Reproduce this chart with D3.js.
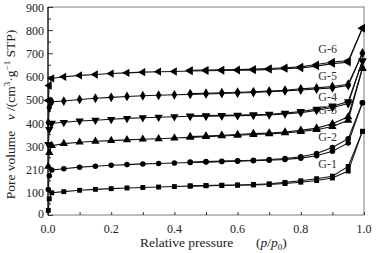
<!DOCTYPE html>
<html>
<head>
<meta charset="utf-8">
<script src="https://cdn.jsdelivr.net/npm/d3@7"></script>
<style>
  body { margin: 0; background: #fff; }
  text { font-family: "Liberation Serif", "DejaVu Serif", serif; }
</style>
</head>
<body>
<div id="chart"></div>
<script>
// relative pressure grid for the adsorption and desorption branches
const pAds = [0.001, 0.004, 0.012, 0.05, 0.10, 0.15, 0.20, 0.25, 0.30, 0.35, 0.40, 0.45,
              0.50, 0.55, 0.60, 0.65, 0.70, 0.75, 0.80, 0.85, 0.90, 0.95, 0.995];
const pDes = [0.995, 0.95, 0.90, 0.85, 0.80, 0.75, 0.70, 0.65, 0.60, 0.55, 0.50, 0.45];

const seriesNames = ['G-1', 'G-2', 'G-3', 'G-4', 'G-5', 'G-6'];

// pore volume, adsorption branch (cm3/g STP, curves offset as in the figure)
const g1Ads = [20, 70, 96, 101, 107, 111, 114, 117, 119, 121, 123, 125, 127, 128, 129, 130, 132, 136, 142, 149, 160, 190, 362];
const g2Ads = [110, 170, 195, 200, 207, 211, 215, 218, 221, 223, 225, 227, 229, 231, 233, 235, 237, 240, 246, 256, 276, 312, 486];
const g3Ads = [210, 270, 300, 309, 315, 319, 322, 325, 328, 330, 333, 336, 339, 342, 345, 348, 351, 355, 361, 369, 383, 410, 635];
const g4Ads = [305, 370, 397, 401, 407, 410, 414, 418, 421, 423, 425, 427, 428, 429, 430, 431, 433, 437, 443, 452, 465, 482, 667];
const g5Ads = [400, 465, 490, 493, 500, 505, 509, 513, 516, 518, 520, 522, 524, 526, 528, 530, 533, 537, 541, 545, 550, 560, 700];
const g6Ads = [495, 560, 591, 598, 604, 608, 612, 615, 618, 620, 621, 623, 624, 625, 626, 627, 630, 633, 636, 644, 655, 661, 808];

// desorption branch
const g1Des = [362, 210, 168, 157, 148, 141, 135, 132, 130, 129, 127, 126];
const g2Des = [486, 330, 292, 266, 252, 244, 240, 237, 235, 233, 231, 229];
const g3Des = [635, 425, 395, 376, 366, 359, 355, 352, 348, 345, 342, 339];
const g4Des = [667, 490, 472, 458, 448, 441, 436, 434, 432, 431, 430, 429];
const g5Des = [700, 566, 556, 550, 546, 540, 536, 533, 531, 529, 527, 525];
const g6Des = [808, 667, 662, 651, 641, 637, 634, 631, 629, 628, 627, 626];

// where each G label sits (data units)
const labelP = 0.885;
const labelV = [221, 338, 455, 511, 602, 719];

const yTickValues = [0, 100, 200, 300, 400, 500, 600, 700, 800, 900];
const yTickLabels = ['0', '100', '210', '300', '400', '500', '600', '700', '800', '900'];
const xTickValues = [0, 0.2, 0.4, 0.6, 0.8, 1.0];
const xTickLabels = ['0.0', '0.2', '0.4', '0.6', '0.8', '1.0'];

const adsSets = [g1Ads, g2Ads, g3Ads, g4Ads, g5Ads, g6Ads];
const desSets = [g1Des, g2Des, g3Des, g4Des, g5Des, g6Des];

const width = 380, height = 253;
const margin = {t: 7, r: 16, b: 38, l: 48};
const w = width - margin.l - margin.r;
const h = height - margin.t - margin.b;

const svg = d3.select('#chart').append('svg')
  .attr('width', width)
  .attr('height', height);

svg.append('rect').attr('width', width).attr('height', height).attr('fill', '#fff');

const plot = svg.append('g').attr('transform', `translate(${margin.l},${margin.t})`);

const scaleX = d3.scaleLinear().domain([0, 1]).range([0, w]);
const scaleY = d3.scaleLinear().domain([0, 900]).range([h, 0]);

// frame
plot.append('rect')
  .attr('x', 0).attr('y', 0).attr('width', w).attr('height', h)
  .attr('fill', 'none').attr('stroke', '#7a7a7a').attr('stroke-width', 1);

// inward ticks
const axisX = d3.axisBottom(scaleX).tickValues(d3.range(0, 1.01, 0.1)).tickSize(-3).tickFormat('');
const axisY = d3.axisLeft(scaleY).tickValues(yTickValues).tickSize(-5).tickFormat('');
const axisYMinor = d3.axisLeft(scaleY).tickValues(d3.range(50, 900, 100)).tickSize(-3).tickFormat('');

const gx = plot.append('g').attr('transform', `translate(0,${h})`).call(axisX);
const gy = plot.append('g').call(axisY);
const gy2 = plot.append('g').call(axisYMinor);
[gx, gy, gy2].forEach(g => {
  g.select('.domain').remove();
  g.selectAll('line').attr('stroke', '#333');
});
plot.append('line').attr('x1', 0).attr('x2', 0).attr('y1', 0).attr('y2', h)
  .attr('stroke', '#111').attr('stroke-width', 1.2);

// tick labels
plot.selectAll('.ylab').data(yTickValues).enter().append('text')
  .attr('class', 'ylab')
  .attr('x', -4)
  .attr('y', d => scaleY(d) + (d === 0 ? 3 : 5))
  .attr('text-anchor', 'end')
  .attr('font-size', 12)
  .attr('fill', '#222')
  .text((d, i) => yTickLabels[i]);

plot.selectAll('.xlab').data(xTickValues).enter().append('text')
  .attr('class', 'xlab')
  .attr('x', d => scaleX(d))
  .attr('y', h + 18)
  .attr('text-anchor', 'middle')
  .attr('font-size', 12)
  .attr('fill', '#222')
  .text((d, i) => xTickLabels[i]);

// axis titles
svg.append('text')
  .attr('x', 140)
  .attr('y', 247)
  .attr('font-size', 13.5)
  .attr('fill', '#222')
  .text('Relative pressure');

const xt = svg.append('text')
  .attr('x', 256)
  .attr('y', 247)
  .attr('font-size', 13.5)
  .attr('fill', '#222');
xt.append('tspan').text('(');
xt.append('tspan').attr('font-style', 'italic').text('p');
xt.append('tspan').text('/');
xt.append('tspan').attr('font-style', 'italic').text('p');
xt.append('tspan').attr('font-size', 9).attr('dy', 3).text('0');
xt.append('tspan').attr('dy', -3).text(')');

svg.append('text')
  .attr('transform', 'translate(15,165) rotate(-90)')
  .attr('text-anchor', 'middle')
  .attr('font-size', 13.5)
  .attr('fill', '#222')
  .text('Pore volume');

const yt = svg.append('text')
  .attr('transform', 'translate(15,75) rotate(-90)')
  .attr('text-anchor', 'middle')
  .attr('font-size', 13.5)
  .attr('fill', '#222');
yt.append('tspan').attr('font-style', 'italic').text('v');
yt.append('tspan').text(' /(cm');
yt.append('tspan').attr('font-size', 9).attr('dy', -5).text('3');
yt.append('tspan').attr('dy', 5).text('\u00b7g');
yt.append('tspan').attr('font-size', 9).attr('dy', -5).text('\u22121');
yt.append('tspan').attr('dy', 5).text(' STP)');

// series
const line = d3.line().x(d => scaleX(d[0])).y(d => scaleY(d[1]));
const symbols = [
  {type: d3.symbolSquare, size: 24, rot: 0},
  {type: d3.symbolCircle, size: 24, rot: 0},
  {type: d3.symbolTriangle, size: 30, rot: 0},
  {type: d3.symbolTriangle, size: 30, rot: 180},
  {type: d3.symbolDiamond, size: 28, rot: 0},
  {type: d3.symbolTriangle, size: 30, rot: -90}
];

seriesNames.forEach((name, i) => {
  const ads = pAds.map((p, k) => [p, adsSets[i][k]]);
  const des = pDes.map((p, k) => [p, desSets[i][k]]);
  const g = plot.append('g').attr('class', 'series');
  [ads, des].forEach(pts => {
    g.append('path')
      .attr('d', line(pts))
      .attr('fill', 'none')
      .attr('stroke', '#111')
      .attr('stroke-width', 1.1);
    g.selectAll(null).data(pts).enter().append('path')
      .attr('d', d3.symbol().type(symbols[i].type).size(symbols[i].size))
      .attr('transform', d => `translate(${scaleX(d[0])},${scaleY(d[1])}) rotate(${symbols[i].rot})`)
      .attr('fill', '#000');
  });
  plot.append('text')
    .attr('x', scaleX(labelP))
    .attr('y', scaleY(labelV[i]) + 4)
    .attr('text-anchor', 'middle')
    .attr('font-size', 12)
    .attr('fill', '#333')
    .text(name);
});
</script>
</body>
</html>
